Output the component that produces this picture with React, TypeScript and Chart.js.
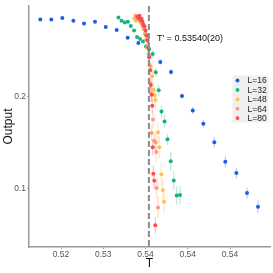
import React, { useEffect, useRef } from "react";
import { Chart, registerables } from "chart.js";
Chart.register(...registerables);

const seriesLabels = ["L=16", "L=32", "L=48", "L=64", "L=80"];
const seriesColors = ["#1f5ce6", "#12b57c", "#ffc155", "#ff9a7c", "#ff4a4a"];
const errorColors = [
  "rgba(31,92,230,0.28)",
  "rgba(18,181,124,0.28)",
  "rgba(255,193,85,0.35)",
  "rgba(255,154,124,0.35)",
  "rgba(255,74,74,0.3)",
];

const tL16 = [0.52255, 0.52385, 0.52515, 0.52646, 0.52772, 0.52902, 0.53029, 0.53159, 0.53289, 0.53415, 0.53545, 0.53675, 0.53802, 0.53932, 0.54059, 0.54184, 0.54314, 0.54444, 0.54575, 0.54701, 0.54831];
const yL16 = [0.2845, 0.2845, 0.286, 0.2831, 0.2801, 0.282, 0.2763, 0.273, 0.2644, 0.2586, 0.2445, 0.2381, 0.227, 0.2009, 0.1849, 0.1706, 0.1504, 0.1291, 0.1167, 0.095, 0.08];
const eL16 = [0.001, 0.001, 0.001, 0.001, 0.001, 0.001, 0.001, 0.001, 0.0015, 0.0015, 0.002, 0.003, 0.003, 0.003, 0.004, 0.004, 0.006, 0.006, 0.006, 0.006, 0.007];

const tL32 = [0.5318, 0.53216, 0.53254, 0.53291, 0.53326, 0.53364, 0.53399, 0.53435, 0.5347, 0.53506, 0.53541, 0.53585, 0.53621, 0.53656, 0.53689, 0.53725, 0.5376, 0.53798, 0.53834, 0.53869, 0.53908];
const yL32 = [0.2866, 0.2831, 0.2812, 0.2818, 0.2773, 0.2723, 0.2653, 0.2631, 0.2604, 0.255, 0.2518, 0.2467, 0.2268, 0.207, 0.1838, 0.173, 0.1536, 0.1296, 0.1086, 0.0921, 0.0929];
const eL32 = [0.001, 0.001, 0.001, 0.001, 0.001, 0.0015, 0.0015, 0.002, 0.002, 0.003, 0.003, 0.004, 0.005, 0.006, 0.007, 0.007, 0.006, 0.011, 0.01, 0.01, 0.01];

const tL48 = [0.53367, 0.53385, 0.53403, 0.53421, 0.53438, 0.53456, 0.53474, 0.53492, 0.53509, 0.53527, 0.53545, 0.53562, 0.5358, 0.53595, 0.53609, 0.53618, 0.53648, 0.53664, 0.53687, 0.53704, 0.53719];
const yL48 = [0.2855, 0.2831, 0.2852, 0.2863, 0.282, 0.2798, 0.2744, 0.269, 0.2626, 0.2539, 0.2442, 0.2331, 0.2223, 0.2076, 0.2018, 0.1964, 0.1612, 0.145, 0.1155, 0.0983, 0.0853];
const eL48 = [0.001, 0.001, 0.001, 0.001, 0.0015, 0.002, 0.002, 0.003, 0.003, 0.004, 0.005, 0.006, 0.007, 0.008, 0.009, 0.01, 0.011, 0.012, 0.013, 0.013, 0.013];

const tL64 = [0.53382, 0.53399, 0.53417, 0.53435, 0.53453, 0.5347, 0.53488, 0.535, 0.53512, 0.53524, 0.53536, 0.53547, 0.53553, 0.53565, 0.53571, 0.53589, 0.53601, 0.53621, 0.53627, 0.53633, 0.53648];
const yL64 = [0.2885, 0.2852, 0.2874, 0.2831, 0.2798, 0.2766, 0.2734, 0.268, 0.2626, 0.255, 0.2464, 0.2345, 0.2151, 0.2032, 0.1604, 0.1752, 0.152, 0.1504, 0.1396, 0.1004, 0.0792];
const eL64 = [0.001, 0.001, 0.001, 0.001, 0.0015, 0.002, 0.002, 0.003, 0.003, 0.004, 0.005, 0.006, 0.007, 0.008, 0.009, 0.01, 0.01, 0.011, 0.011, 0.012, 0.012];

const tL80 = [0.53405, 0.53417, 0.53429, 0.53441, 0.53453, 0.53465, 0.53476, 0.53488, 0.535, 0.53512, 0.53524, 0.53533, 0.53544, 0.53556, 0.53563, 0.53573, 0.5358, 0.53585, 0.53592, 0.53604, 0.53616];
const yL80 = [0.2874, 0.2863, 0.2885, 0.2841, 0.2852, 0.282, 0.2787, 0.2766, 0.2723, 0.2669, 0.2615, 0.2539, 0.2431, 0.2291, 0.2129, 0.2022, 0.1903, 0.145, 0.1159, 0.1083, 0.0598];
const eL80 = [0.001, 0.001, 0.001, 0.001, 0.0015, 0.002, 0.002, 0.003, 0.003, 0.004, 0.005, 0.006, 0.007, 0.007, 0.008, 0.008, 0.008, 0.009, 0.009, 0.009, 0.009];

const xTickValues = [0.525, 0.53, 0.535, 0.54, 0.545];
const xTickLabels = ["0.52", "0.53", "0.54", "0.54", "0.54"];
const yTickValues = [0.1, 0.2];
const yTickLabels = ["0.1", "0.2"];
const criticalT = 0.5354;
const criticalLabel = "T' = 0.53540(20)";
const xTitle = "T";
const yTitle = "Output";

const seriesT = [tL16, tL32, tL48, tL64, tL80];
const seriesY = [yL16, yL32, yL48, yL64, yL80];
const seriesE = [eL16, eL32, eL48, eL64, eL80];

const FONT = "'Liberation Sans', Arial, sans-serif";

const errorBarPlugin = {
  id: "errorBars",
  beforeDatasetsDraw(chart: any) {
    const { ctx, scales, chartArea } = chart;
    const xs = scales.x;
    const ys = scales.y;
    ctx.save();
    ctx.beginPath();
    ctx.rect(chartArea.left, chartArea.top, chartArea.right - chartArea.left, chartArea.bottom - chartArea.top);
    ctx.clip();
    ctx.lineWidth = 1.3;
    seriesT.forEach((ts, i) => {
      ctx.strokeStyle = errorColors[i];
      ts.forEach((t, j) => {
        const px = xs.getPixelForValue(t);
        const y0 = ys.getPixelForValue(seriesY[i][j] - seriesE[i][j]);
        const y1 = ys.getPixelForValue(seriesY[i][j] + seriesE[i][j]);
        ctx.beginPath();
        ctx.moveTo(px, y0);
        ctx.lineTo(px, y1);
        ctx.stroke();
      });
    });
    ctx.restore();
  },
};

const overlayPlugin = {
  id: "overlay",
  afterDatasetsDraw(chart: any) {
    const { ctx, scales, chartArea } = chart;
    const px = scales.x.getPixelForValue(criticalT);
    ctx.save();
    ctx.strokeStyle = "#8c8c8c";
    ctx.lineWidth = 2;
    ctx.setLineDash([6, 3]);
    ctx.beginPath();
    ctx.moveTo(px, chartArea.top);
    ctx.lineTo(px, chartArea.bottom);
    ctx.stroke();
    ctx.setLineDash([]);
    ctx.fillStyle = "#111";
    ctx.font = `9px ${FONT}`;
    ctx.textBaseline = "middle";
    ctx.textAlign = "left";
    ctx.fillText(criticalLabel, px + 8, scales.y.getPixelForValue(0.2635));
    ctx.restore();
  },
  afterDraw(chart: any) {
    const { ctx } = chart;
    const bx = 232.5;
    const by = 75.5;
    ctx.save();
    ctx.fillStyle = "#efefef";
    ctx.fillRect(bx, by, 36, 47);
    ctx.font = `8.5px ${FONT}`;
    ctx.textBaseline = "middle";
    ctx.textAlign = "left";
    seriesLabels.forEach((lab, i) => {
      const cy = by + 5 + i * 9.4;
      ctx.fillStyle = seriesColors[i];
      ctx.beginPath();
      ctx.arc(bx + 5, cy, 1.9, 0, Math.PI * 2);
      ctx.fill();
      ctx.fillStyle = "#222";
      ctx.fillText(lab, bx + 15, cy + 0.5);
    });
    ctx.restore();
  },
};

export default function App() {
  const ref = useRef<HTMLCanvasElement | null>(null);
  useEffect(() => {
    if (!ref.current) return;
    const datasets = seriesLabels.map((lab, i) => ({
      label: lab,
      data: seriesT[i].map((t, j) => ({ x: t, y: seriesY[i][j] })),
      backgroundColor: seriesColors[i],
      borderWidth: 0,
      pointRadius: 2,
      pointHoverRadius: 2,
      order: 4 - i,
    }));
    const chart = new Chart(ref.current, {
      type: "scatter",
      data: { datasets },
      plugins: [errorBarPlugin, overlayPlugin],
      options: {
        animation: false,
        responsive: false,
        layout: { padding: { top: 3, right: 3, left: 0, bottom: 0 } },
        plugins: { legend: { display: false }, tooltip: { enabled: false } },
        scales: {
          x: {
            type: "linear",
            min: 0.52121,
            max: 0.54973,
            afterBuildTicks: (s: any) => {
              s.ticks = xTickValues.map((v) => ({ value: v }));
            },
            afterFit: (s: any) => {
              s.height = 26;
            },
            grid: { display: true, drawOnChartArea: false, drawTicks: true, tickLength: 2, color: "#999" },
            border: { display: true, color: "#999", width: 1.5 },
            ticks: {
              autoSkip: false,
              maxRotation: 0,
              padding: 1,
              color: "#555",
              font: { size: 8.5, family: FONT },
              callback: (v: any) => {
                const k = xTickValues.findIndex((t) => Math.abs(t - v) < 1e-9);
                return k >= 0 ? xTickLabels[k] : "";
              },
            },
            title: { display: true, text: xTitle, color: "#111", font: { size: 12, family: FONT }, padding: { top: 0, bottom: 2 } },
          },
          y: {
            type: "linear",
            min: 0.036,
            max: 0.299,
            afterBuildTicks: (s: any) => {
              s.ticks = yTickValues.map((v) => ({ value: v }));
            },
            afterFit: (s: any) => {
              s.width = 29;
            },
            grid: { display: true, drawOnChartArea: false, drawTicks: true, tickLength: 2, color: "#999" },
            border: { display: true, color: "#999", width: 1.5 },
            ticks: {
              padding: 1,
              color: "#555",
              font: { size: 8.5, family: FONT },
              callback: (v: any) => {
                const k = yTickValues.findIndex((t) => Math.abs(t - v) < 1e-9);
                return k >= 0 ? yTickLabels[k] : "";
              },
            },
            title: { display: true, text: yTitle, color: "#111", font: { size: 12, family: FONT }, padding: { top: 1, bottom: 0 } },
          },
        },
      },
    });
    return () => chart.destroy();
  }, []);
  return (
    <div style={{ position: "absolute", left: 0, top: 0, width: 273, height: 273, background: "#fff" }}>
      <canvas ref={ref} width={273} height={273} style={{ display: "block" }} />
    </div>
  );
}
